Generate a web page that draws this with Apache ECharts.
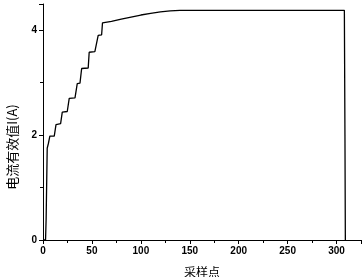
<!DOCTYPE html>
<html><head><meta charset="utf-8">
<script src="https://cdn.jsdelivr.net/npm/echarts@6/dist/echarts.min.js"></script>
<style>html,body{margin:0;padding:0;background:#fff;}#c{width:363px;height:277px;}</style>
</head><body><div id="c"></div>
<script>
var sampleX = [0,2.6,3.2,4.3,5.5,7,11.5,13.3,18,19.7,24.8,26.8,32.7,35,37.8,39.5,46.2,47.2,53,56.4,59.9,60.8,70,80,90,100,110,120,130,140,200,250,308,308.6,309];
var currentY = [0,0,0.4,1.75,1.84,1.98,1.98,2.2,2.22,2.44,2.45,2.7,2.71,2.98,2.99,3.27,3.28,3.58,3.59,3.9,3.91,4.14,4.17,4.21,4.25,4.29,4.32,4.35,4.37,4.38,4.38,4.38,4.38,2.0,0];
var xTicks = {min:0, max:325, interval:50};
var yTicks = {min:0, max:4.5, interval:2};
var data = sampleX.map(function(x,i){return [x,currentY[i]];});
var chart = echarts.init(document.getElementById('c'));
var lab = {fontFamily:'Liberation Sans', fontWeight:'bold', fontSize:10, color:'#000'};
chart.setOption({
  animation:false,
  grid:{left:43,top:4,right:2,bottom:37,outerBoundsMode:'none',containLabel:false},
  xAxis:{type:'value',min:xTicks.min,max:xTicks.max,interval:xTicks.interval,
    name:'采样点',nameLocation:'middle',nameGap:26,
    nameTextStyle:{fontFamily:'Noto Sans CJK SC',fontSize:12,color:'#000',verticalAlign:'top'},
    axisLine:{lineStyle:{color:'#000',width:1}},
    axisTick:{inside:false,length:4,lineStyle:{color:'#000'}},
    minorTick:{show:true,splitNumber:2,length:3,lineStyle:{color:'#000'}},
    splitLine:{show:false},
    axisLabel:Object.assign({margin:6,showMaxLabel:false},lab)},
  yAxis:{type:'value',min:yTicks.min,max:yTicks.max,interval:yTicks.interval,
    name:'电流有效值I(A)',nameLocation:'middle',nameGap:24,
    nameTextStyle:{fontFamily:'Noto Sans CJK SC',fontSize:13,color:'#000',padding:[0,50,0,0]},
    axisLine:{show:true,lineStyle:{color:'#000',width:1}},
    axisTick:{show:true,inside:false,length:4,lineStyle:{color:'#000'}},
    minorTick:{show:true,splitNumber:2,length:3,lineStyle:{color:'#000'}},
    splitLine:{show:false},
    axisLabel:Object.assign({margin:6,showMaxLabel:false},lab)},
  series:[{type:'line',data:data,showSymbol:false,lineStyle:{color:'#000',width:1.3}}]
});
</script></body></html>
